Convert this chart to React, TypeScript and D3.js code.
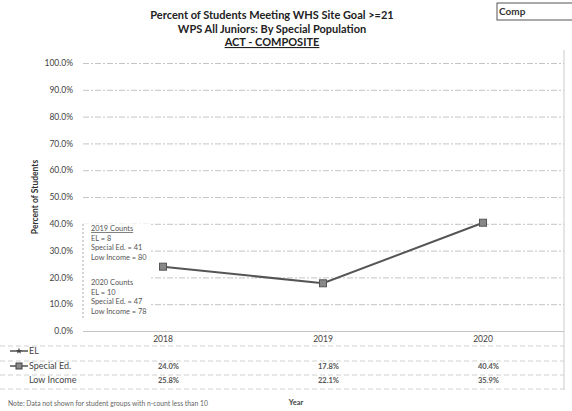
import * as d3 from "d3";
import { useEffect, useRef } from "react";

const WIDTH = 572;
const HEIGHT = 411;
const MARGIN = { top: 63, right: 8, bottom: 80, left: 83 };

const YEARS = ["2018", "2019", "2020"];
const SPECIAL_ED = [24.0, 17.8, 40.4];
const LOW_INCOME = [25.8, 22.1, 35.9];
const EL: (number | null)[] = [null, null, null];
const Y_TICKS = [0, 10, 20, 30, 40, 50, 60, 70, 80, 90, 100];
const TITLES = [
  "Percent of Students Meeting WHS Site Goal >=21",
  "WPS All Juniors: By Special Population",
  "ACT - COMPOSITE",
];
const COUNTS_2019 = ["2019 Counts", "EL = 8", "Special Ed. = 41", "Low Income = 80"];
const COUNTS_2020 = ["2020 Counts", "EL = 10", "Special Ed. = 47", "Low Income = 78"];
const FONT = "Lato, 'Open Sans', sans-serif";

export default function App() {
  const ref = useRef<SVGSVGElement>(null);

  useEffect(() => {
    const svg = d3.select(ref.current);
    svg.selectAll("*").remove();

    const plotBottom = 331;
    const x = d3
      .scaleBand()
      .domain(YEARS)
      .range([MARGIN.left, WIDTH - MARGIN.right - 1]);
    const y = d3.scaleLinear().domain([0, 100]).range([plotBottom, MARGIN.top]);
    const cx = (d: string) => (x(d) ?? 0) + x.bandwidth() / 2;

    // titles
    svg
      .append("g")
      .selectAll("text")
      .data(TITLES)
      .join("text")
      .attr("x", 272)
      .attr("y", (_, i) => 19 + i * 13.5)
      .attr("text-anchor", "middle")
      .attr("font-family", FONT)
      .attr("font-weight", "bold")
      .attr("font-size", 11)
      .attr("fill", "#222")
      .attr("text-decoration", (_, i) => (i === 2 ? "underline" : null))
      .text((d) => d);

    // "Comp" box
    svg
      .append("rect")
      .attr("x", 497)
      .attr("y", 3)
      .attr("width", 80)
      .attr("height", 17)
      .attr("fill", "none")
      .attr("stroke", "#555");
    svg
      .append("text")
      .attr("x", 499)
      .attr("y", 15)
      .attr("font-family", FONT)
      .attr("font-weight", "bold")
      .attr("font-size", 10)
      .attr("fill", "#333")
      .text("Comp");

    // gridlines + y axis
    const yAxis = svg
      .append("g")
      .attr("transform", `translate(${MARGIN.left},0)`)
      .call(
        d3
          .axisLeft(y)
          .tickValues(Y_TICKS)
          .tickSize(-(WIDTH - MARGIN.right - MARGIN.left))
          .tickPadding(10)
          .tickFormat((d) => `${(+d).toFixed(1)}%`)
      );
    yAxis.select(".domain").remove();
    yAxis
      .selectAll(".tick line")
      .attr("stroke", "#bdbdbd")
      .attr("stroke-width", 0.9)
      .attr("stroke-dasharray", (d) => (d === 0 ? null : "6,2,2,2"));
    yAxis
      .selectAll(".tick text")
      .attr("font-family", FONT)
      .attr("font-size", 8.5)
      .attr("fill", "#444");

    svg
      .append("text")
      .attr("transform", `translate(38,${(MARGIN.top + plotBottom) / 2}) rotate(-90)`)
      .attr("text-anchor", "middle")
      .attr("font-family", FONT)
      .attr("font-weight", "bold")
      .attr("font-size", 8.5)
      .attr("fill", "#333")
      .text("Percent of Students");

    // right border of plot
    svg
      .append("line")
      .attr("x1", WIDTH - MARGIN.right)
      .attr("x2", WIDTH - MARGIN.right)
      .attr("y1", 50)
      .attr("y2", 390)
      .attr("stroke", "#ccc");

    // x labels
    svg
      .append("g")
      .selectAll("text")
      .data(YEARS)
      .join("text")
      .attr("x", cx)
      .attr("y", 342)
      .attr("text-anchor", "middle")
      .attr("font-family", FONT)
      .attr("font-size", 8.5)
      .attr("fill", "#444")
      .text((d) => d);

    // counts box
    const box = svg.append("g");
    box
      .append("rect")
      .attr("x", 83)
      .attr("y", 224)
      .attr("width", 68)
      .attr("height", 96)
      .attr("fill", "#fff");
    box
      .append("line")
      .attr("x1", 83)
      .attr("x2", 83)
      .attr("y1", 224)
      .attr("y2", 320)
      .attr("stroke", "#aaa")
      .attr("stroke-dasharray", "2,2");
    const countLines = [
      ...COUNTS_2019.map((t, i) => ({ t, y: 231 + i * 9.5, u: i === 0 })),
      ...COUNTS_2020.map((t, i) => ({ t, y: 285 + i * 9.5, u: false })),
    ];
    box
      .selectAll("text")
      .data(countLines)
      .join("text")
      .attr("x", 91)
      .attr("y", (d) => d.y)
      .attr("font-family", FONT)
      .attr("font-size", 7.4)
      .attr("fill", "#555")
      .attr("text-decoration", (d) => (d.u ? "underline" : null))
      .text((d) => d.t);

    // Special Ed. line
    const line = d3
      .line<number>()
      .x((_, i) => cx(YEARS[i]))
      .y((d) => y(d));
    svg
      .append("path")
      .datum(SPECIAL_ED)
      .attr("d", line)
      .attr("fill", "none")
      .attr("stroke", "#555")
      .attr("stroke-width", 2);
    svg
      .append("g")
      .selectAll("rect")
      .data(SPECIAL_ED)
      .join("rect")
      .attr("x", (_, i) => cx(YEARS[i]) - 3.5)
      .attr("y", (d) => y(d) - 3.5)
      .attr("width", 7)
      .attr("height", 7)
      .attr("fill", "#888")
      .attr("stroke", "#555");

    // data table
    const rowY = [354, 369, 383];
    [346, 361, 375, 389].forEach((ly) =>
      svg
        .append("line")
        .attr("x1", 0)
        .attr("x2", WIDTH - MARGIN.right)
        .attr("y1", ly)
        .attr("y2", ly)
        .attr("stroke", "#d0d0d0")
        .attr("stroke-dasharray", "5,3")
    );
    const rows = [
      { name: "EL", vals: EL, marker: "star" },
      { name: "Special Ed.", vals: SPECIAL_ED, marker: "square" },
      { name: "Low Income", vals: LOW_INCOME, marker: "none" },
    ];
    rows.forEach((r, ri) => {
      const ry = rowY[ri];
      if (r.marker !== "none") {
        svg
          .append("line")
          .attr("x1", 10)
          .attr("x2", 28)
          .attr("y1", ry - 3)
          .attr("y2", ry - 3)
          .attr("stroke", "#444")
          .attr("stroke-width", 1.4);
        if (r.marker === "square") {
          svg
            .append("rect")
            .attr("x", 16)
            .attr("y", ry - 6)
            .attr("width", 6)
            .attr("height", 6)
            .attr("fill", "#888")
            .attr("stroke", "#444");
        } else {
          svg
            .append("path")
            .attr("d", d3.symbol(d3.symbolStar, 14)())
            .attr("transform", `translate(19,${ry - 3})`)
            .attr("fill", "#444");
        }
      }
      svg
        .append("text")
        .attr("x", 29)
        .attr("y", ry)
        .attr("font-family", FONT)
        .attr("font-size", 9)
        .attr("fill", "#444")
        .text(r.name);
      r.vals.forEach((v, i) => {
        if (v == null) return;
        svg
          .append("text")
          .attr("x", cx(YEARS[i]) - 5)
          .attr("y", ry)
          .attr("font-family", FONT)
          .attr("font-weight", "bold")
          .attr("font-size", 7.5)
          .attr("fill", "#555")
          .text(`${v.toFixed(1)}%`);
      });
    });

    // footer
    svg
      .append("text")
      .attr("x", 8)
      .attr("y", 406)
      .attr("font-family", FONT)
      .attr("font-size", 6.8)
      .attr("fill", "#666")
      .text("Note: Data not shown for student groups with n-count less than 10");
    svg
      .append("text")
      .attr("x", 296)
      .attr("y", 405)
      .attr("text-anchor", "middle")
      .attr("font-family", FONT)
      .attr("font-weight", "bold")
      .attr("font-size", 7.5)
      .attr("fill", "#444")
      .text("Year");
  }, []);

  return (
    <svg
      ref={ref}
      width={WIDTH}
      height={HEIGHT}
      style={{ position: "absolute", left: 0, top: 0, background: "#fff" }}
    />
  );
}
